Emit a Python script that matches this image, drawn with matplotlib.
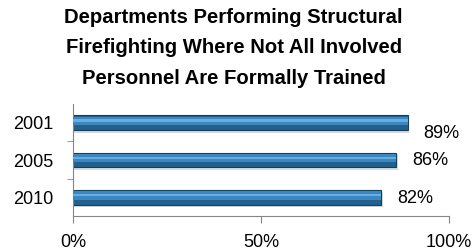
import matplotlib
matplotlib.use('Agg')
import matplotlib.pyplot as plt
import matplotlib.ticker as mtick

years = ['2001', '2005', '2010']
shares = [0.89, 0.86, 0.82]
labels = ['89%', '86%', '82%']

title = ('Departments Performing Structural\n'
         'Firefighting Where Not All Involved\n'
         'Personnel Are Formally Trained')

# data labels do not sit quite level with their bars in the original
label_dy = [0.28, 0.0, 0.03]

plt.rcParams['font.family'] = ['Liberation Sans', 'DejaVu Sans']

fig = plt.figure(figsize=(4.74, 2.52), dpi=100)
ax = fig.add_axes([0.154, 0.143, 0.793, 0.444])

pos = list(range(len(years)))

# soft shadow, main body, then a lighter highlight stripe
ax.barh([p + 0.06 for p in pos], shares, height=0.42, left=0.004,
        color='#dadada', zorder=1)
ax.barh(pos, shares, height=0.40, color='#21608f', edgecolor='#163f5e',
        linewidth=0.8, zorder=2)
ax.barh([p - 0.05 for p in pos], shares, height=0.22, color='#3c87bf',
        zorder=3)
ax.barh([p - 0.06 for p in pos], shares, height=0.06, color='#65aee2',
        zorder=4)

for p, v, lab, dy in zip(pos, shares, labels, label_dy):
    ax.text(v + 0.043, p + dy, lab, va='center', ha='left', fontsize=13)

ax.set_xlim(0, 1)
ax.set_ylim(2.5, -0.5)
ax.set_yticks([p + 0.5 for p in pos[:-1]], minor=True)
ax.set_yticks(pos)
ax.set_yticklabels(years, fontsize=13)
ax.tick_params(axis='y', which='major', length=0, pad=14)
ax.tick_params(axis='y', which='minor', length=4.5, color='#868686')
ax.set_xticks([0, 0.5, 1])
ax.xaxis.set_major_formatter(mtick.PercentFormatter(1, 0))
ax.tick_params(axis='x', length=5, color='#868686', labelsize=13, pad=8)

for side in ['top', 'right']:
    ax.spines[side].set_visible(False)
for side in ['left', 'bottom']:
    ax.spines[side].set_color('#868686')

fig.text(0.493, 0.968, title, ha='center', va='top', fontsize=14.6,
         fontweight='bold', linespacing=1.75)

fig.savefig('out.png', dpi=100)
